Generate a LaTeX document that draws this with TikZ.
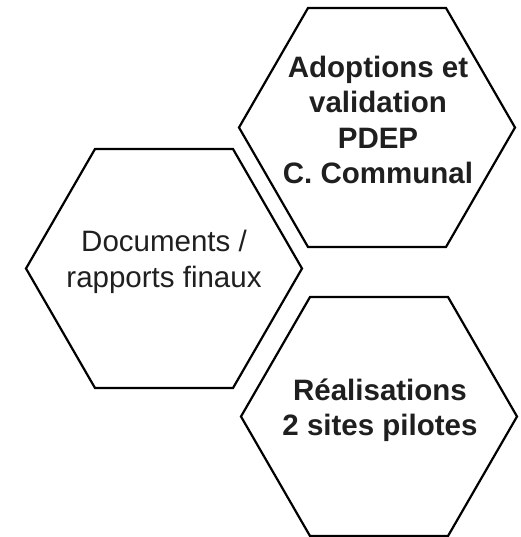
\documentclass[tikz,border=0pt]{standalone}
\usepackage{fontspec}
\setmainfont{Liberation Sans}
\usetikzlibrary{shapes.geometric,calc}
\tikzset{
  hexa/.style={draw=black, line width=2.2pt, regular polygon, regular polygon sides=6,
    minimum size=276pt, inner sep=0pt, outer sep=0pt},
  txt/.style={align=center, text=black!88, inner sep=0pt, font=\fontsize{29.5}{35.5}\selectfont},
  txtb/.style={txt, font=\fontsize{29.5}{35.5}\selectfont\bfseries}
}
\begin{document}
\begin{tikzpicture}[x=1pt,y=-1pt]
\useasboundingbox (0,0) rectangle (520,537);
\node[hexa] (htop) at (377,127.5) {};
\node[hexa] (hleft) at (164,268.5) {};
\node[hexa] (hbot) at (379,416.5) {};
\node[txtb] (ttop) at (378,120) {Adoptions et\\validation\\PDEP\\C. Communal};
\node[txt] (tleft) at (164,262) {Documents /\\rapports finaux};
\node[txtb] (tbot) at (380,410) {Réalisations\\2 sites pilotes};
\end{tikzpicture}
\end{document}
